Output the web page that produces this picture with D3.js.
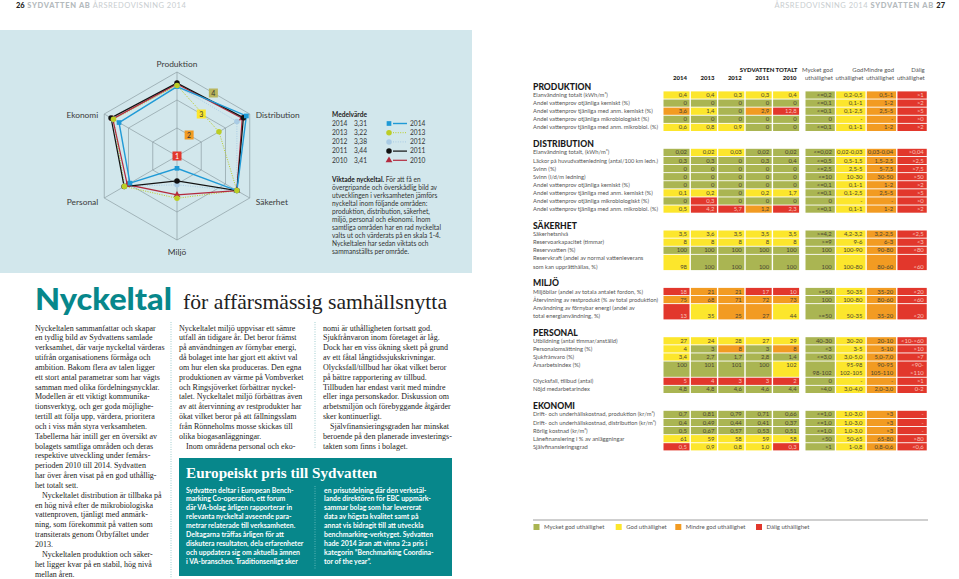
<!DOCTYPE html>
<html><head><meta charset="utf-8">
<script src="https://cdn.jsdelivr.net/npm/d3@7"></script>
<style>body{margin:0;background:#fff}svg{display:block}</style>
</head><body><svg id="c" width="959" height="579"></svg>
<script>
// ---------------- DATA ----------------
const axesNames = ["Produktion","Distribution","Säkerhet","Miljö","Personal","Ekonomi"];
const years = ["2014","2013","2012","2011","2010"];
const radar2014 = [3.48,3.86,3.47,1.44,2.94,3.39];
const radar2013 = [3.52,2.73,3.47,2.51,3.17,3.62];
const radar2012 = [3.50,3.47,3.47,2.03,3.15,3.65];
const radar2011 = [3.61,3.74,3.47,1.89,3.18,3.72];
const radar2010 = [3.57,3.69,3.47,2.39,3.05,3.65];
const medelvarde = ["3,31","3,22","3,38","3,44","3,41"];
const scaleTicks = [1,2,3,4];
const ringTicks = [2,3,4];

const sectionNames = ["PRODUKTION","DISTRIBUTION","SÄKERHET","MILJÖ","PERSONAL","EKONOMI"];
const ratingHeads = [["Mycket god","uthållighet"],["God","uthållighet"],["Mindre god","uthållighet"],["Dålig","uthållighet"]];
const legendNames = ["Mycket god uthållighet","God uthållighet","Mindre god uthållighet","Dålig uthållighet"];

const produktionRows = [
 {label:["Elanvändning totalt (kWh/m³)"], values:["0,4","0,4","0,3","0,3","0,4"], colors:"YYYYY", ratings:["<=0,2","0,2-0,5","0,5-1",">1"]},
 {label:["Andel vattenprov otjänliga kemiskt (%)"], values:["0","0","0","0","0"], colors:"GGGGG", ratings:["<=0,1","0,1-1","1-2",">2"]},
 {label:["Andel vattenprov tjänliga med anm. kemiskt (%)"], values:["3,6","1,4","0","2,9","12,8"], colors:"OYGOR", ratings:["<=0,1","0,1-2,5","2,5-5",">5"]},
 {label:["Andel vattenprov otjänliga mikrobiologiskt (%)"], values:["0","0","0","0","0"], colors:"GGGGG", ratings:["0","-","-",">0"]},
 {label:["Andel vattenprov tjänliga med anm. mikrobiol. (%)"], values:["0,6","0,8","0,9","0","0"], colors:"YYYGG", ratings:["<=0,1","0,1-1","1-2",">2"]}
];
const distributionRows = [
 {label:["Elanvändning totalt, (kWh/m³)"], values:["0,02","0,02","0,03","0,02","0,02"], colors:"GYYGG", ratings:["<=0,02","0,02-0,03","0,03-0,04",">0,04"]},
 {label:["Läckor på huvudvattenledning (antal/100 km ledn.)"], values:["0,3","0,3","0","0,3","0,4"], colors:"GGGGG", ratings:["<=0,5","0,5-1,5","1,5-2,5",">2,5"]},
 {label:["Svinn (%)"], values:["0","0","0","0","0"], colors:"GGGGG", ratings:["<=2,5","2,5-5","5-7,5",">7,5"]},
 {label:["Svinn (l/d/m ledning)"], values:["0","0","0","0","0"], colors:"GGGGG", ratings:["<=10","10-30","30-50",">50"]},
 {label:["Andel vattenprov otjänliga kemiskt (%)"], values:["0","0","0","0","0"], colors:"GGGGG", ratings:["<=0,1","0,1-1","1-2",">2"]},
 {label:["Andel vattenprov tjänliga med anm. kemiskt (%)"], values:["0,1","0,2","0","0,2","1,7"], colors:"YYGYY", ratings:["<=0,1","0,1-2,5","2,5-5",">5"]},
 {label:["Andel vattenprov otjänliga mikrobiologiskt (%)"], values:["0","0,3","0","0","0"], colors:"GRGGG", ratings:["0","-","-",">0"]},
 {label:["Andel vattenprov tjänliga med anm. mikrobiol. (%)"], values:["0,5","4,2","5,7","1,2","2,3"], colors:"YRROR", ratings:["<=0,1","0,1-1","1-2",">2"]}
];
const sakerhetRows = [
 {label:["Säkerhetsnivå"], values:["3,5","3,6","3,5","3,5","3,5"], colors:"YYYYY", ratings:[">=4,2","4,2-3,2","3,2-2,5","<2,5"]},
 {label:["Reservoarkapacitet (timmar)"], values:["8","8","8","8","8"], colors:"YYYYY", ratings:[">=9","9-6","6-3","<3"]},
 {label:["Reservvatten (%)"], values:["100","100","100","100","100"], colors:"GGGGG", ratings:["100","100-90","90-80","<80"]},
 {label:["Reservkraft (andel av normal vattenleverans","som kan upprätthållas, %)"], values:["98","100","100","100","100"], colors:"YGGGG", ratings:["100","100-80","80-60","<60"]}
];
const miljoRows = [
 {label:["Miljöbilar (andel av totala antalet fordon, %)"], values:["18","21","21","17","10"], colors:"ROORR", ratings:[">=50","50-35","35-20","<20"]},
 {label:["Återvinning av restprodukt (% av total produktion)"], values:["75","68","71","72","73"], colors:"OOOOO", ratings:["100","100-80","80-60","<60"]},
 {label:["Användning av förnybar energi (andel av","total energianvändning, %)"], values:["13","35","25","27","44"], colors:"RYOOY", ratings:[">=50","50-35","35-20","<20"]}
];
const personalRows = [
 {label:["Utbildning (antal timmar/anställd)"], values:["27","24","28","27","29"], colors:"YYYYY", ratings:["40-30","30-20","20-10","<10->60"]},
 {label:["Personalomsättning (%)"], values:["4","3","8","3","8"], colors:"YGOGO", ratings:["<3","3-5","5-10",">10"]},
 {label:["Sjukfrånvaro (%)"], values:["3,4","2,7","1,7","2,8","1,4"], colors:"YGGGG", ratings:["<=3,0","3,0-5,0","5,0-7,0",">7"]},
 {label:["Årsarbetsindex (%)"], values:["100","101","101","100","102"], colors:"GGGGY", ratings:["98-102","95-98|102-105","90-95|105-110","<90-|>110"], valuesTop:true},
 {label:["Olycksfall, tillbud (antal)"], values:["5","4","3","3","2"], colors:"RRRRR", ratings:["0","-","-",">1"]},
 {label:["Nöjd medarbetarindex"], values:["4,8","4,8","4,6","4,6","4,4"], colors:"GGGGG", ratings:[">4,0","3,0-4,0","2,0-3,0","0-2"]}
];
const ekonomiRows = [
 {label:["Drift- och underhållskostnad, produktion (kr/m³)"], values:["0,7","0,81","0,79","0,71","0,66"], colors:"GGGGG", ratings:["<=1,0","1,0-3,0",">3","-"]},
 {label:["Drift- och underhållskostnad, distribution (kr/m³)"], values:["0,4","0,49","0,44","0,41","0,37"], colors:"GGGGG", ratings:["<=1,0","1,0-3,0",">3","-"]},
 {label:["Rörlig kostnad (kr/m³)"], values:["0,5","0,67","0,57","0,53","0,51"], colors:"GGGGG", ratings:["<=1,0","1,0-3,0",">3","-"]},
 {label:["Lånefinansiering i % av anläggningar"], values:["61","59","58","59","58"], colors:"YYYYY", ratings:["<50","50-65","65-80",">80"]},
 {label:["Självfinansieringsgrad"], values:["0,5","0,9","0,8","1,0","0,3"], colors:"RYYYR", ratings:[">1","1-0,8","0,8-0,6","<0,6"]}
];

const viktadeLines = ["Viktade nyckeltal.|För att få en","övergripande och överskådlig bild av","utvecklingen i verksamheten jämförs","nyckeltal inom följande områden:","produktion, distribution, säkerhet,","miljö, personal och ekonomi. Inom","samtliga områden har en rad nyckeltal","valts ut och värderats på en skala 1-4.","Nyckeltalen har sedan viktats och","sammanställts per område."];

const col1Paras = [
 ["Nyckeltalen sammanfattar och skapar","en tydlig bild av Sydvattens samlade","verksamhet, där varje nyckeltal värderas","utifrån organisationens förmåga och","ambition. Bakom flera av talen ligger","ett stort antal parametrar som har vägts","samman med olika fördelningsnycklar.","Modellen är ett viktigt kommunika-","tionsverktyg, och ger goda möjlighe-","tertill att följa upp, värdera, prioritera","och i viss mån styra verksamheten.","Tabellerna här intill ger en översikt av","bolagets samtliga områden och deras","respektive utveckling under femårs-","perioden 2010 till 2014. Sydvatten","har över åren visat på en god uthållig-","het totalt sett."],
 ["Nyckeltalet distribution är tillbaka på","en hög nivå efter de mikrobiologiska","vattenproven, tjänligt med anmärk-","ning, som förekommit på vatten som","transiterats genom Örbyfältet under","2013."],
 ["Nyckeltalen produktion och säker-","het ligger kvar på en stabil, hög nivå","mellan åren."]
];
const col2Paras = [
 ["Nyckeltalet miljö uppvisar ett sämre","utfall än tidigare år. Det beror främst","på användningen av förnybar energi,","då bolaget inte har gjort ett aktivt val","om hur elen ska produceras. Den egna","produktionen av värme på Vombverket","och Ringsjöverket förbättrar nyckel-","talet. Nyckeltalet miljö förbättras även","av att återvinning av restprodukter har","ökat vilket beror på att fällningsslam","från Rönneholms mosse skickas till","olika biogasanläggningar."],
 ["Inom områdena personal och eko-"]
];
const col3Paras = [
 ["nomi är uthålligheten fortsatt god.","Sjukfrånvaron inom företaget är låg.","Dock har en viss ökning skett på grund","av ett fåtal långtidssjukskrivningar.","Olycksfall/tillbud har ökat vilket beror","på bättre rapportering av tillbud.","Tillbuden har endast varit med mindre","eller inga personskador. Diskussion om","arbetsmiljön och förebyggande åtgärder","sker kontinuerligt."],
 ["Självfinansieringsgraden har minskat","beroende på den planerade investerings-","takten som finns i bolaget."]
];
const boxColA = ["Sydvatten deltar i European Bench-","marking Co-operation, ett forum","där VA-bolag årligen rapporterar in","relevanta nyckeltal avseende para-","metrar relaterade till verksamheten.","Deltagarna träffas årligen för att","diskutera resultaten, dela erfarenheter","och uppdatera sig om aktuella ämnen","i VA-branschen. Traditionsenligt sker"];
const boxColB = ["en prisutdelning där den verkstäl-","lande direktören för EBC uppmärk-","sammar bolag som har levererat","data av högsta kvalitet samt på","annat vis bidragit till att utveckla","benchmarking-verktyget. Sydvatten","hade 2014 äran att vinna 2:a pris i","kategorin ”Benchmarking Coordina-","tor  of the year”."];

// ---------------- STYLE ----------------
const sans = "Lato, 'Open Sans', 'Noto Sans', sans-serif";
const serif = "'Liberation Serif', 'DejaVu Serif', serif";
const teal = "#07878b";
const cellCol = {G:"#aab552", Y:"#fce62c", O:"#f29b22", R:"#e2372c"};
const ratingCodes = ["G","Y","O","R"];

const svg = d3.select("#c");
svg.append("rect").attr("width",959).attr("height",579).attr("fill","#fff");

// header
const hL = svg.append("text").attr("x",16).attr("y",8).style("font-family",sans).style("font-size","7.5px");
hL.append("tspan").text("26").attr("font-weight",900).attr("fill","#222");
hL.append("tspan").text(" SYDVATTEN AB").attr("font-weight",900).attr("fill","#b4babd").attr("letter-spacing","0.7");
hL.append("tspan").text(" ÅRSREDOVISNING 2014").attr("fill","#c8cdcf").attr("letter-spacing","0.5");
const hR = svg.append("text").attr("x",945).attr("y",8).attr("text-anchor","end").style("font-family",sans).style("font-size","7.5px");
hR.append("tspan").text("ÅRSREDOVISNING 2014 ").attr("fill","#c8cdcf").attr("letter-spacing","0.5");
hR.append("tspan").text("SYDVATTEN AB ").attr("font-weight",900).attr("fill","#b4babd").attr("letter-spacing","0.7");
hR.append("tspan").text("27").attr("font-weight",900).attr("fill","#222");

// blue panel
svg.append("rect").attr("x",0).attr("y",30).attr("width",472).attr("height",243).attr("fill","#d2e7ec");

// ---------------- RADAR ----------------
const cx = 177, cy = 156, R = 84;
const rScale = d3.scaleLinear().domain([1,4]).range([0,R]);
const angle = i => i*Math.PI/3;
const g = svg.append("g").attr("transform",`translate(${cx},${cy})`);
const radial = d3.lineRadial().angle((d,i)=>angle(i)).radius(d=>rScale(d)).curve(d3.curveLinearClosed);
ringTicks.forEach(t=>{
  g.append("path").attr("d",radial(axesNames.map(()=>t))).attr("fill","none").attr("stroke","#8d9da3").attr("stroke-width",0.7);
});
axesNames.forEach((n,i)=>{
  const a = angle(i);
  g.append("line").attr("x1",0).attr("y1",0).attr("x2",rScale(4)*Math.sin(a)).attr("y2",-rScale(4)*Math.cos(a)).attr("stroke","#8d9da3").attr("stroke-width",0.7);
  const vx = rScale(4)*Math.sin(a), vy = -rScale(4)*Math.cos(a);
  let x, y, anchor;
  if (Math.abs(Math.sin(a))<0.01){ x=vx; anchor="middle"; y = vy<0 ? vy-5 : vy+15; }
  else { anchor = Math.sin(a)>0 ? "start":"end"; x = vx + (Math.sin(a)>0?6:-6); y = vy + (Math.cos(a)>0?4:6.5); }
  g.append("text").attr("x",x).attr("y",y).attr("text-anchor",anchor).text(n)
   .style("font-family",sans).style("font-size","8.4px").attr("fill","#3a3a3a");
});
// scale tick boxes
const tickCols = ["#e2372c","#f29b22","#fce62c","#b9b65e"];
scaleTicks.forEach((t,i)=>{
  const d = rScale(t)*Math.cos(Math.PI/6);
  const x = d*Math.sin(Math.PI/6), y = -d*Math.cos(Math.PI/6);
  g.append("rect").attr("x",x-4.5).attr("y",y-4.5).attr("width",9).attr("height",9).attr("fill",tickCols[i]);
  g.append("text").attr("x",x).attr("y",y+2.6).attr("text-anchor","middle").text(t)
   .style("font-family",sans).style("font-size","7px").attr("fill", i===0?"#fff":"#333");
});
const series = [
 {year:"2012", data:radar2012, color:"#a9cbe4", dash:"1,1.4", width:1, marker:"circle"},
 {year:"2013", data:radar2013, color:"#bccd25", dash:"1,1.4", width:1, marker:"circle"},
 {year:"2010", data:radar2010, color:"#b32a3e", dash:null, width:1.2, marker:"triangle"},
 {year:"2011", data:radar2011, color:"#111111", dash:null, width:1.2, marker:"circle"},
 {year:"2014", data:radar2014, color:"#1f9ad6", dash:null, width:1.4, marker:"square"}
];
series.forEach(s=>{
  g.append("path").attr("d",radial(s.data)).attr("fill","none").attr("stroke",s.color)
   .attr("stroke-width",s.width).attr("stroke-dasharray",s.dash);
});
const sym = {circle:d3.symbolCircle, square:d3.symbolSquare, triangle:d3.symbolTriangle};
const symSize = {circle:24, square:22, triangle:20};
const markerOrder = ["2012","2010","2011","2014","2013"];
markerOrder.forEach(yr=>{
  const s = series.find(q=>q.year===yr);
  s.data.forEach((v,i)=>{
    const a = angle(i), r = rScale(v);
    g.append("path").attr("d",d3.symbol().type(sym[s.marker]).size(symSize[s.marker])())
     .attr("transform",`translate(${r*Math.sin(a)},${-r*Math.cos(a)})`).attr("fill",s.color);
  });
});

// Medelvärde legend
const lg = svg.append("g").style("font-family",sans).style("font-size","6.6px").attr("fill","#333");
lg.append("text").attr("x",332).attr("y",116.5).text("Medelvärde").attr("font-weight",700).attr("fill","#222");
const legOrder = ["2014","2013","2012","2011","2010"];
legOrder.forEach((yr,i)=>{
  const y = 125.8 + i*9.2;
  lg.append("text").attr("x",332).attr("y",y).text(yr);
  lg.append("text").attr("x",354).attr("y",y).text(medelvarde[years.indexOf(yr)]);
  const s = series.find(q=>q.year===yr);
  lg.append("line").attr("x1",393).attr("x2",407).attr("y1",y-2.3).attr("y2",y-2.3).attr("stroke",s.color)
    .attr("stroke-width",s.width).attr("stroke-dasharray",s.dash);
  lg.append("path").attr("d",d3.symbol().type(sym[s.marker]).size(symSize[s.marker])())
    .attr("transform",`translate(389,${y-2.3})`).attr("fill",s.color);
  lg.append("text").attr("x",410).attr("y",y).text(yr);
});
viktadeLines.forEach((l,i)=>{
  const t = lg.append("text").attr("x",332).attr("y",181.5+i*8.1);
  const parts = l.split("|");
  if (parts.length>1){ t.append("tspan").text(parts[0]+" ").attr("font-weight",700).attr("fill","#222"); t.append("tspan").text(parts[1]); }
  else t.text(l);
});

// ---------------- TITLE + BODY ----------------
svg.append("text").attr("x",35).attr("y",309.5).text("Nyckeltal")
  .style("font-family",sans).style("font-size","30.5px").attr("font-weight",900).attr("fill",teal)
  .attr("textLength",137).attr("lengthAdjust","spacingAndGlyphs");
svg.append("text").attr("x",183).attr("y",309).text("för affärsmässig samhällsnytta")
  .style("font-family",serif).style("font-size","21.5px").attr("fill","#222")
  .attr("textLength",264).attr("lengthAdjust","spacingAndGlyphs");

function drawColumn(paras, x, y0){
  let k = 0;
  paras.forEach((p,pi)=>{
    p.forEach((l,li)=>{
      svg.append("text").attr("x", x + ((pi>0 && li===0)?7:0)).attr("y", y0 + k*9.84).text(l)
        .style("font-family",serif).style("font-size","8px").attr("fill","#222");
      k++;
    });
  });
}
drawColumn(col1Paras, 35, 330.5);
drawColumn(col2Paras, 179, 330.5);
drawColumn(col3Paras, 323, 330.5);
svg.append("line").attr("x1",171).attr("x2",171).attr("y1",322).attr("y2",578).attr("stroke","#6db3b5").attr("stroke-width",0.8).attr("stroke-dasharray","0.8,1.6");
svg.append("line").attr("x1",315).attr("x2",315).attr("y1",322).attr("y2",449).attr("stroke","#6db3b5").attr("stroke-width",0.8).attr("stroke-dasharray","0.8,1.6");

// teal box
svg.append("rect").attr("x",179).attr("y",458).attr("width",273).attr("height",118).attr("fill",teal);
svg.append("text").attr("x",186).attr("y",478.3).text("Europeiskt pris till Sydvatten")
  .style("font-family",serif).style("font-size","15px").attr("font-weight",700).attr("fill","#fff")
  .attr("textLength",191).attr("lengthAdjust","spacingAndGlyphs");
svg.append("line").attr("x1",315).attr("x2",315).attr("y1",486).attr("y2",569).attr("stroke","#8fd0d1").attr("stroke-width",0.8).attr("stroke-dasharray","0.8,1.6");
[[boxColA,186],[boxColB,324]].forEach(([lines,x])=>{
  lines.forEach((l,i)=>{
    const t = svg.append("text").attr("x",x).attr("y",492.5+i*8.93).text(l)
      .style("font-family",sans).style("font-size","6.9px").attr("font-weight",700).attr("fill","#fff");
    if (t.node().getComputedTextLength() > 126) t.attr("textLength",126).attr("lengthAdjust","spacingAndGlyphs");
  });
});

// ---------------- TABLE ----------------
const T = {x:533, yX0:663.5, yStep:27.4, yW:26, rX0:805.5, rStep:30.65, rW:29.3, step:8.1, cellH:7.2, labelMax:125};
const tg = svg.append("g").style("font-family",sans);
tg.append("text").attr("x",797.5).attr("y",71.5).attr("text-anchor","end").text("SYDVATTEN TOTALT")
  .style("font-size","6px").attr("font-weight",900).attr("fill","#222");
years.forEach((yr,i)=>{
  tg.append("text").attr("x",T.yX0+i*T.yStep+T.yW-2.5).attr("y",80).attr("text-anchor","end").text(yr)
   .style("font-size","6px").attr("font-weight",900).attr("fill","#222");
});
ratingHeads.forEach((h,j)=>{
  h.forEach((l,k)=>{
    tg.append("text").attr("x",T.rX0+j*T.rStep+T.rW-2).attr("y",71.5+k*8.5).attr("text-anchor","end").text(l)
     .style("font-size","6px").attr("fill","#555");
  });
});
const sections = [produktionRows, distributionRows, sakerhetRows, miljoRows, personalRows, ekonomiRows];
let ty = 86.5;
sections.forEach((rows,si)=>{
  tg.append("text").attr("x",T.x).attr("y",ty+3.2).text(sectionNames[si])
    .style("font-size","8.6px").attr("font-weight",900).attr("fill","#1a1a1a");
  let y = ty + 8.5;
  let last = y;
  rows.forEach(row=>{
    const rl = row.ratings.map(r=>r.split("|"));
    const n = Math.max(row.label.length, ...rl.map(r=>r.length));
    const top = y - T.cellH/2, h = (n-1)*T.step + T.cellH;
    row.label.forEach((l,k)=>{
      const t = tg.append("text").attr("x",T.x).attr("y",y+k*T.step+2).text(l).style("font-size","5.8px").attr("fill","#555");
      if (t.node().getComputedTextLength() > T.labelMax) t.attr("textLength",T.labelMax).attr("lengthAdjust","spacingAndGlyphs");
    });
    const vLine = row.valuesTop ? 0 : n-1;
    row.values.forEach((v,i)=>{
      const c = row.colors[i];
      const x = T.yX0 + i*T.yStep;
      tg.append("rect").attr("x",x).attr("y",top).attr("width",T.yW).attr("height",h).attr("fill",cellCol[c]);
      tg.append("text").attr("x",x+T.yW-2.5).attr("y",y+vLine*T.step+2).attr("text-anchor","end").text(v)
        .style("font-size","5.9px").attr("fill", c==="R"?"#f6c3b8":"#4a4632");
    });
    rl.forEach((lines,j)=>{
      const c = ratingCodes[j];
      const x = T.rX0 + j*T.rStep;
      tg.append("rect").attr("x",x).attr("y",top).attr("width",T.rW).attr("height",h).attr("fill",cellCol[c]);
      lines.forEach((l,k)=>{
        const line = lines.length===1 ? n-1 : k;
        tg.append("text").attr("x",x+T.rW-3).attr("y",y+line*T.step+2).attr("text-anchor","end").text(l)
          .style("font-size","5.9px").attr("fill", c==="R"?"#f6c3b8":"#4a4632");
      });
    });
    last = y + (n-1)*T.step;
    y += n*T.step;
  });
  ty = last + 16.5;
});

// legend
svg.append("line").attr("x1",533).attr("x2",928).attr("y1",520).attr("y2",520).attr("stroke","#777").attr("stroke-width",0.7);
const legX = [533.5, 615.7, 675.3, 756];
legendNames.forEach((n,i)=>{
  svg.append("rect").attr("x",legX[i]).attr("y",524).attr("width",6).attr("height",6).attr("fill",cellCol[ratingCodes[i]]);
  svg.append("text").attr("x",legX[i]+10.5).attr("y",529.3).text(n).style("font-family",sans).style("font-size","6px").attr("fill","#555");
});
</script></body></html>
